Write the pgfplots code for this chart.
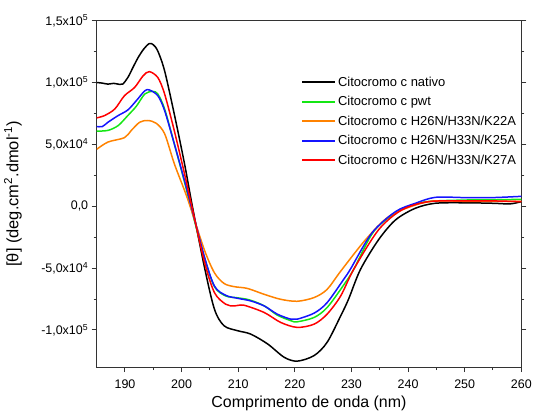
\documentclass[border=0pt]{standalone}
\usepackage{pgfplots}
\pgfplotsset{compat=1.18}
\usepackage{fontspec}
\setmainfont{Liberation Sans}
\definecolor{mygreen}{RGB}{20,230,20}
\definecolor{myorange}{RGB}{255,130,0}
\definecolor{myblue}{RGB}{20,20,255}
\definecolor{myred}{RGB}{255,0,0}
\pgfplotsset{curve/.style={line width=1.5pt, smooth, tension=0.5}}
\begin{document}
\begin{tikzpicture}
\begin{axis}[
  scale only axis,
  width=426pt, height=347.6pt,
  xmin=185, xmax=260,
  ymin=-130000, ymax=150000,
  xtick={190,200,...,260},
  minor x tick num=1,
  ytick={-100000,-50000,0,50000,100000,150000},
  yticklabels={{-1,0x10\textsuperscript{5}},{-5,0x10\textsuperscript{4}},{0,0},{5,0x10\textsuperscript{4}},{1,0x10\textsuperscript{5}},{1,5x10\textsuperscript{5}}},
  minor y tick num=1,
  scaled y ticks=false,
  /pgf/number format/assume math mode=true,
  xtick pos=bottom,
  ytick pos=both,
  tick align=outside,
  major tick length=5pt,
  minor tick length=3pt,
  tick style={line width=1pt, color=black!80},
  axis line style={line width=1.2pt, color=black!80},
  ticklabel style={font=\fontsize{12.5}{14}\selectfont},
  xticklabel style={yshift=-4.5pt},
  xlabel={Comprimento de onda (nm)},
  ylabel={[θ] (deg.cm\textsuperscript{2}.dmol\textsuperscript{-1})},
  xlabel style={font=\fontsize{16}{18}\selectfont, at={(axis description cs:0.5,-0.106)}, anchor=center},
  ylabel style={font=\fontsize{16.5}{18}\selectfont, at={(axis description cs:-0.197,0.5)}, anchor=center, rotate=0},
  legend style={at={(0.4765,0.85)}, anchor=north west, draw=none, fill=none,
    font=\fontsize{13}{15}\selectfont, row sep=4.6pt, nodes={inner xsep=3pt}},
  legend cell align=left,
  legend image code/.code={\fill[#1, draw=none] (0pt,-1pt) rectangle (33pt,1pt);},
]
\addplot[black, curve] coordinates {
(185,100000)(186,99500)(187,98700)(188,99300)(189,98500)(189.6,98700)(190.5,104000)(191.5,113000)(192.3,120000)(193.3,127000)(194.3,131500)(195,130500)(195.8,125400)(197,109400)(198.7,74600)(200.5,34700)(201.9,0)(204,-48500)(205.8,-83200)(207.5,-96600)(209.9,-100600)(212.2,-103300)(215.2,-111300)(218.1,-122000)(220.4,-125200)(223.4,-120700)(225.7,-110000)(228.1,-88600)(229.5,-75000)(231.6,-51000)(234.8,-27000)(237.8,-11000)(241.3,-1600)(244.8,2400)(250,2800)(255,2400)(258,1900)(260,3700)};
\addlegendentry{Citocromo c nativo}
\addplot[mygreen, curve] coordinates {
(185,60700)(187,61300)(188.8,65200)(190.5,73300)(192,80800)(193.5,90700)(194.9,92800)(195.8,90700)(197,78600)(198.7,50600)(200.5,19800)(201.6,0)(204,-41000)(205.8,-65000)(207.8,-72500)(209.9,-74000)(212,-75700)(214.6,-80500)(216.9,-88000)(219.3,-92500)(220.4,-93400)(223.4,-89900)(225.7,-81900)(228.7,-63200)(230.4,-51000)(234,-20000)(238.5,-3500)(243,3500)(250,5000)(255,5200)(260,5600)};
\addlegendentry{Citocromo c pwt}
\addplot[myorange, curve] coordinates {
(185,46000)(187,51900)(189.9,55400)(191.1,61200)(192.6,67900)(194,69300)(195.5,67100)(197,58600)(198.7,34500)(200.5,13000)(201.5,0)(204,-35000)(205.8,-53800)(207.5,-62400)(209.3,-65000)(211.6,-66400)(214.6,-71200)(217.5,-75200)(220.4,-76800)(223.4,-73800)(225.7,-67200)(228.1,-52500)(232.5,-27000)(236.6,-8300)(241.3,1000)(244.8,4300)(250,4000)(255,4000)(260,4000)};
\addlegendentry{Citocromo c H26N/H33N/K22A}
\addplot[myblue, curve] coordinates {
(185,64400)(186,64400)(187,67900)(188.8,73300)(190.5,77800)(192,85300)(193.5,93300)(194.3,94000)(195.8,89300)(197,77300)(198.7,50600)(200.5,21000)(201.7,0)(204,-40400)(205.8,-64500)(207.8,-72000)(209.9,-74400)(212.2,-76500)(214.6,-80600)(216.9,-87200)(219.3,-91300)(220.4,-91300)(223.4,-86400)(225.7,-77900)(228.7,-58600)(229.8,-51000)(233.6,-21700)(237.8,-4300)(241.3,2400)(244.8,7200)(250,7000)(255,7000)(260,8000)};
\addlegendentry{Citocromo c H26N/H33N/K25A}
\addplot[myred, curve] coordinates {
(185,71400)(186.4,73300)(188.2,78600)(189.9,89300)(191.7,96000)(193.2,105400)(194.3,108800)(195.8,104000)(197,90700)(198.7,61200)(200.5,26500)(201.8,0)(204,-44500)(205.8,-69800)(207.8,-79200)(209.3,-80600)(211,-80000)(214.6,-85900)(217.5,-93900)(220.4,-97900)(223.4,-95300)(225.7,-87200)(228.1,-72500)(230.4,-51000)(234.8,-19000)(238.9,-3000)(243.6,3700)(250,4300)(255,4300)(260,3700)};
\addlegendentry{Citocromo c H26N/H33N/K27A}
\end{axis}
\path (-97pt,-47.7pt) rectangle (438pt,368.3pt);
\end{tikzpicture}
\end{document}
